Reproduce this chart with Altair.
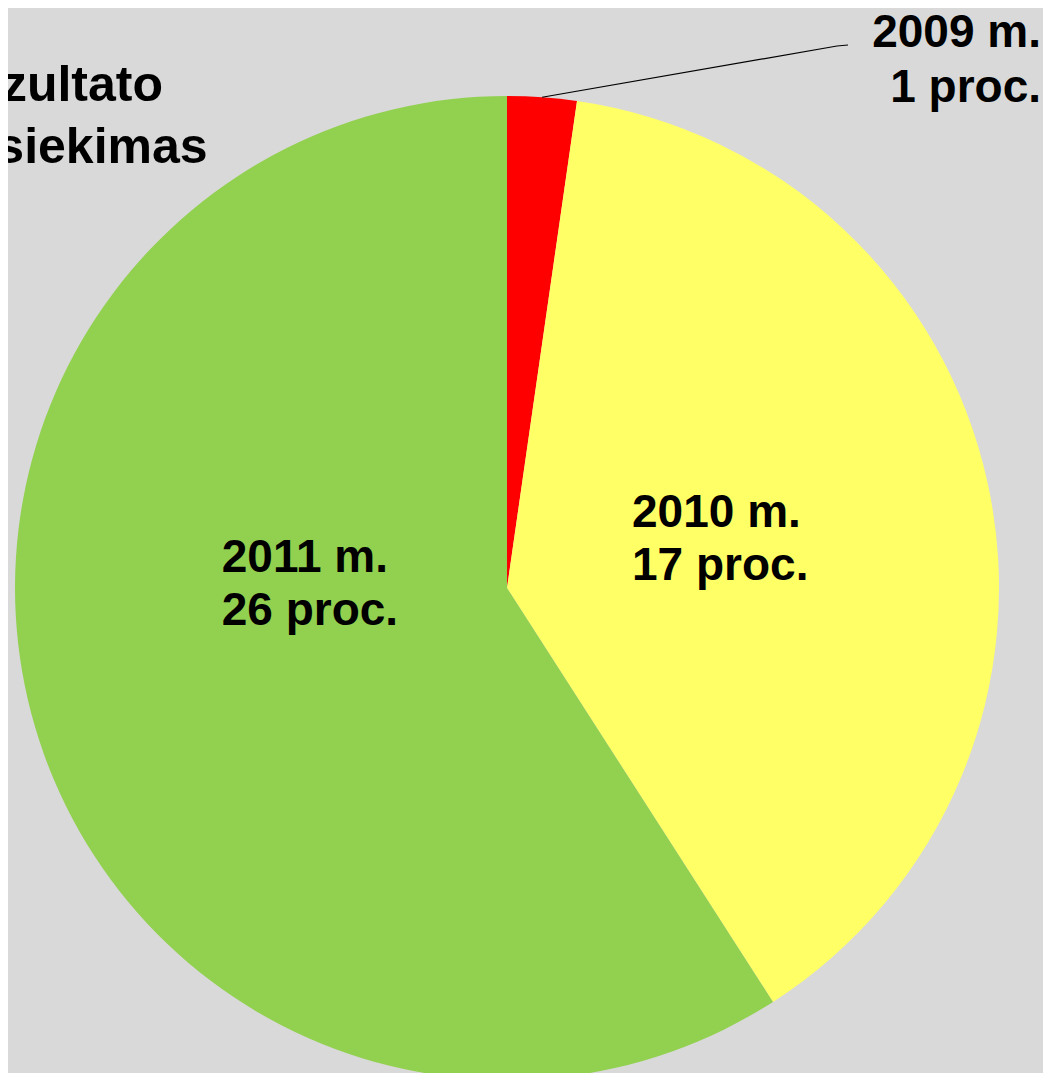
import altair as alt
import pandas as pd
import math

# ---- data ----
years = ["2009 m.", "2010 m.", "2011 m."]
values = [1, 17, 26]
colors = ["#ff0000", "#ffff66", "#92d050"]
title_lines = ["Rezultato", "pasiekimas"]

labels = [f"{y}\n{v} proc." for y, v in zip(years, values)]
total = sum(values)

df = pd.DataFrame({
    "year": years,
    "value": values,
    "order": list(range(len(years))),
    "label": labels,
})

# ---- layout ----
W, H = 1035, 1065
CX, CY, R = 499, 580, 492
FONT = "Liberation Sans"

theta_scale = alt.Scale(domain=[0, total])
color_scale = alt.Scale(domain=years, range=colors)

base = alt.Chart(df)

pie = base.mark_arc(outerRadius=R).encode(
    theta=alt.Theta("value:Q", stack=True, scale=theta_scale),
    color=alt.Color("year:N", scale=color_scale, legend=None),
    order=alt.Order("order:Q"),
    x=alt.value(CX),
    y=alt.value(CY),
)

lab = base.transform_window(
    cum="sum(value)", sort=[{"field": "order"}], frame=[None, 0]
).transform_calculate(mid="datum.cum - datum.value / 2")


def inner_label(year, radius, dx, dy):
    return lab.transform_filter(alt.datum.year == year).mark_text(
        radius=radius, dx=dx, dy=dy, align="left", baseline="alphabetic",
        lineBreak="\n", lineHeight=53, fontSize=46, fontWeight="bold",
        font=FONT, color="black",
    ).encode(
        theta=alt.Theta("mid:Q", stack=None, scale=theta_scale),
        text="label:N",
        x=alt.value(CX),
        y=alt.value(CY),
    )


lab_2010 = inner_label(years[1], 130, -2, -33)
lab_2011 = inner_label(years[2], 290, -7, -98)

# outside label for the small slice
lab_2009 = base.transform_filter(alt.datum.year == years[0]).mark_text(
    align="right", baseline="alphabetic", lineBreak="\n", lineHeight=55,
    fontSize=46, fontWeight="bold", font=FONT, color="black",
).encode(text="label:N", x=alt.value(1033), y=alt.value(39))

# leader line from slice edge to the label
mid_angle = (values[0] / 2) / total * 2 * math.pi
leader = pd.DataFrame({
    "px": [CX + R * math.sin(mid_angle), 829, 840],
    "py": [CY - R * math.cos(mid_angle), 38, 37],
    "k": [0, 1, 2],
})
line = alt.Chart(leader).mark_line(color="black", strokeWidth=1.2).encode(
    x=alt.X("px:Q", scale=None),
    y=alt.Y("py:Q", scale=None),
    order="k:Q",
)

title = alt.Chart(pd.DataFrame({"t": ["\n".join(title_lines)]})).mark_text(
    align="left", baseline="alphabetic", lineBreak="\n", lineHeight=62,
    fontSize=50, fontWeight="bold", font=FONT, color="black",
).encode(text="t:N", x=alt.value(-70), y=alt.value(93))

chart = alt.layer(pie, line, lab_2010, lab_2011, lab_2009, title).properties(
    width=W, height=H, autosize=alt.AutoSizeParams(type="none"), padding=0,
    background="#d9d9d9",
).configure_view(stroke=None)

chart.save("out.html", embed_options={"renderer": "svg", "actions": False})
